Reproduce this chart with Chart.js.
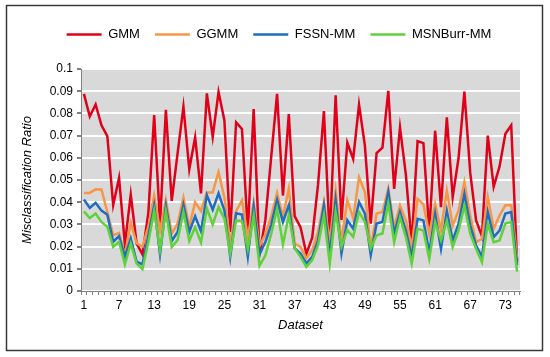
<!DOCTYPE html>
<html>
<head>
<meta charset="utf-8">
<script src="https://cdn.jsdelivr.net/npm/chart.js@4.4.1/dist/chart.umd.min.js"></script>
<style>
html,body{margin:0;padding:0;background:#fff;}
#wrap{position:relative;width:550px;height:357px;}
</style>
</head>
<body>
<div id="wrap"><canvas id="c" width="550" height="357"></canvas></div>
<script>
const categories = Array.from({length: 75}, (_, i) => String(i + 1));
const seriesNames = ['GMM', 'GGMM', 'FSSN-MM', 'MSNBurr-MM'];
const gmm = [0.0888,0.0786,0.0840,0.0746,0.0698,0.0387,0.0510,0.0210,0.0434,0.0214,0.0165,0.0350,0.0793,0.0304,0.0816,0.0406,0.0620,0.0830,0.0548,0.0692,0.0440,0.0890,0.0694,0.0896,0.0768,0.0266,0.0760,0.0730,0.0267,0.0820,0.0165,0.0320,0.0605,0.0888,0.0430,0.0797,0.0337,0.0288,0.0168,0.0240,0.0480,0.0810,0.0235,0.0882,0.0320,0.0668,0.0595,0.0840,0.0655,0.0303,0.0621,0.0646,0.0902,0.0460,0.0737,0.0524,0.0214,0.0675,0.0666,0.0267,0.0722,0.0378,0.0782,0.0423,0.0598,0.0898,0.0532,0.0318,0.0247,0.0700,0.0470,0.0560,0.0708,0.0746,0.0132];
const ggmm = [0.0442,0.0442,0.0458,0.0457,0.0356,0.0251,0.0262,0.0160,0.0307,0.0215,0.0200,0.0290,0.0430,0.0270,0.0410,0.0258,0.0304,0.0420,0.0290,0.0400,0.0360,0.0444,0.0444,0.0536,0.0420,0.0217,0.0360,0.0408,0.0240,0.0398,0.0202,0.0255,0.0337,0.0442,0.0334,0.0461,0.0214,0.0199,0.0147,0.0184,0.0266,0.0401,0.0222,0.0454,0.0222,0.0409,0.0326,0.0513,0.0446,0.0192,0.0349,0.0356,0.0461,0.0287,0.0385,0.0317,0.0198,0.0415,0.0390,0.0257,0.0392,0.0272,0.0452,0.0295,0.0362,0.0490,0.0340,0.0220,0.0235,0.0422,0.0280,0.0340,0.0386,0.0386,0.0147];
const fssn = [0.0412,0.0374,0.0397,0.0362,0.0344,0.0222,0.0247,0.0154,0.0237,0.0132,0.0120,0.0250,0.0384,0.0165,0.0383,0.0225,0.0266,0.0388,0.0266,0.0337,0.0269,0.0432,0.0366,0.0440,0.0363,0.0154,0.0350,0.0344,0.0155,0.0380,0.0165,0.0221,0.0299,0.0410,0.0311,0.0386,0.0192,0.0169,0.0124,0.0154,0.0229,0.0386,0.0160,0.0409,0.0169,0.0319,0.0281,0.0401,0.0349,0.0162,0.0304,0.0311,0.0446,0.0257,0.0355,0.0272,0.0153,0.0325,0.0318,0.0175,0.0347,0.0190,0.0362,0.0228,0.0302,0.0437,0.0295,0.0205,0.0153,0.0355,0.0243,0.0272,0.0349,0.0356,0.0117];
const msnburr = [0.0359,0.0329,0.0349,0.0311,0.0289,0.0199,0.0222,0.0120,0.0214,0.0124,0.0099,0.0220,0.0360,0.0185,0.0358,0.0199,0.0229,0.0356,0.0225,0.0288,0.0218,0.0372,0.0300,0.0378,0.0326,0.0168,0.0318,0.0315,0.0188,0.0338,0.0114,0.0161,0.0258,0.0370,0.0210,0.0341,0.0192,0.0154,0.0109,0.0139,0.0207,0.0341,0.0124,0.0356,0.0199,0.0274,0.0244,0.0356,0.0311,0.0192,0.0251,0.0259,0.0396,0.0220,0.0332,0.0243,0.0123,0.0280,0.0272,0.0145,0.0310,0.0228,0.0317,0.0198,0.0272,0.0385,0.0257,0.0190,0.0130,0.0302,0.0220,0.0228,0.0304,0.0311,0.0087];
const yTicks = [0,0.01,0.02,0.03,0.04,0.05,0.06,0.07,0.08,0.09,0.1];
const xLabelEvery = 6;
const yTitle = 'Misclassification Ratio';
const xTitle = 'Dataset';

const colors = ['#E0001A', '#F79646', '#1F6DC0', '#5FD13A'];
const FONT = '"Liberation Sans", Arial, sans-serif';

const framePlugin = {
  id: 'frame',
  beforeDraw(chart) {
    const {ctx, chartArea: a} = chart;
    ctx.save();
    ctx.fillStyle = '#fff';
    ctx.fillRect(0, 0, chart.width, chart.height);
    ctx.fillStyle = '#D9D9D9';
    ctx.fillRect(a.left, a.top, a.right - a.left, a.bottom - a.top);
    ctx.restore();
  },
  afterDraw(chart) {
    const {ctx} = chart;
    ctx.save();
    ctx.strokeStyle = '#3a3a3a';
    ctx.lineWidth = 1.5;
    ctx.strokeRect(6.5, 5.5, 536, 345);
    ctx.restore();
  }
};

const legendSpacer = {
  id: 'legendSpacer',
  beforeInit(chart) {
    const lg = chart.legend;
    const orig = lg.fit;
    lg.fit = function () { orig.call(this); this.height += 18; };
  }
};

const datasets = [gmm, ggmm, fssn, msnburr].map((d, i) => ({
  label: seriesNames[i],
  data: d,
  borderColor: colors[i],
  backgroundColor: colors[i],
  borderWidth: 2.5,
  pointRadius: 0,
  pointHoverRadius: 0,
  tension: 0,
  fill: false
})).reverse();

new Chart(document.getElementById('c'), {
  type: 'line',
  data: {labels: categories, datasets},
  options: {
    responsive: false,
    animation: false,
    devicePixelRatio: 1,
    layout: {padding: {left: 8, right: 0, top: 13, bottom: 14}},
    plugins: {
      tooltip: {enabled: false},
      legend: {
        position: 'top',
        reverse: true,
        labels: {
          usePointStyle: true,
          pointStyle: 'line',
          pointStyleWidth: 35,
          padding: 15,
          color: '#000',
          font: {family: FONT, size: 13}
        }
      }
    },
    scales: {
      x: {
        type: 'category',
        offset: true,
        afterFit(s) { s.height = 52; },
        grid: {offset: true, drawOnChartArea: false, drawTicks: true, tickLength: 4, tickColor: '#808080', lineWidth: 1},
        border: {display: true, color: '#808080', width: 1},
        ticks: {
          autoSkip: false, maxRotation: 0, padding: 3, color: '#000',
          font: {family: FONT, size: 12},
          callback(v, i) { return i % xLabelEvery === 0 ? categories[i] : ''; }
        },
        title: {display: true, text: xTitle, color: '#000', font: {family: FONT, size: 13, style: 'italic'}, padding: {top: 0, bottom: 10}}
      },
      y: {
        min: 0, max: 0.1,
        afterFit(s) { s.width = 73; },
        afterBuildTicks(s) { s.ticks = yTicks.map(v => ({value: v})); },
        grid: {color: '#ffffff', lineWidth: 2, drawTicks: true, tickLength: 4, tickColor: '#808080'},
        border: {display: true, color: '#808080', width: 1},
        ticks: {
          padding: 4, color: '#000',
          font: {family: FONT, size: 12},
          callback(v) { return String(Number(v.toFixed(2))); }
        },
        title: {display: true, text: yTitle, color: '#000', font: {family: FONT, size: 13, style: 'italic'}, padding: {top: 12, bottom: 0}}
      },
      yRight: {
        position: 'right',
        display: true,
        afterFit(s) { s.width = 30; },
        grid: {display: false, drawOnChartArea: false, drawTicks: false},
        border: {display: false},
        ticks: {display: false}
      }
    }
  },
  plugins: [framePlugin, legendSpacer]
});
</script>
</body>
</html>
